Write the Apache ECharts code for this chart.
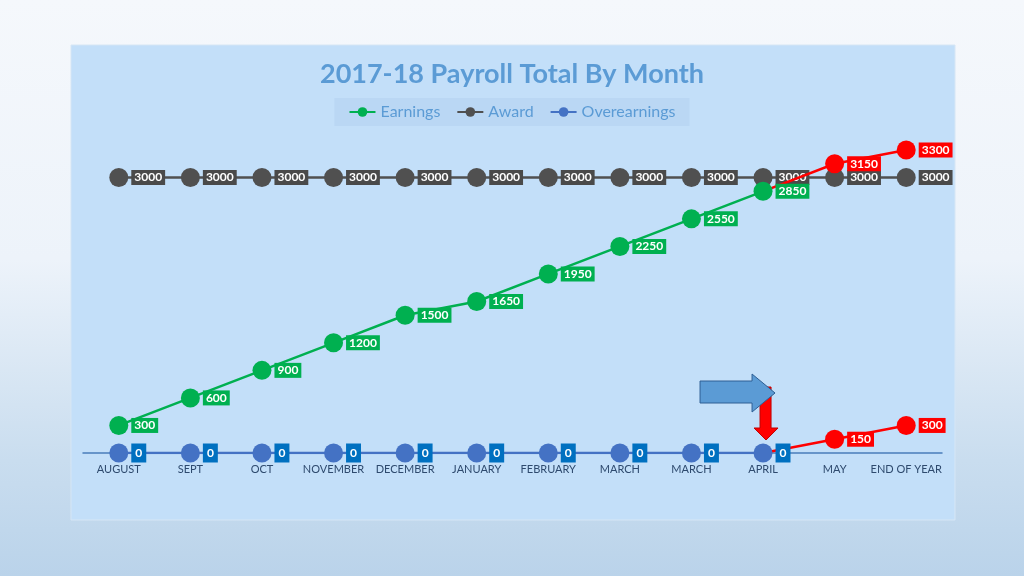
<!DOCTYPE html>
<html>
<head>
<meta charset="utf-8">
<script src="https://cdn.jsdelivr.net/npm/echarts@6/dist/echarts.min.js"></script>
<style>
  html, body { margin: 0; padding: 0; }
  body {
    width: 1024px; height: 576px;
    background: linear-gradient(180deg, #f5f8fc 0%, #edf3fa 45%, #c9ddef 80%, #bad3ea 100%);
  }
  #chart { width: 1024px; height: 576px; }
</style>
</head>
<body>
<div id="chart"></div>
<script>
// month labels along the bottom (the sheet has MARCH twice)
const months = ['AUGUST', 'SEPT', 'OCT', 'NOVEMBER', 'DECEMBER', 'JANUARY', 'FEBRUARY',
  'MARCH', 'MARCH', 'APRIL', 'MAY', 'END OF YEAR']

const earnings = [300, 600, 900, 1200, 1500, 1650, 1950, 2250, 2550, 2850, null, null]
const earningsProjected = [null, null, null, null, null, null, null, null, null, 2850, 3150, 3300]
const award = [3000, 3000, 3000, 3000, 3000, 3000, 3000, 3000, 3000, 3000, 3000, 3000]
const overearnings = [0, 0, 0, 0, 0, 0, 0, 0, 0, 0, null, null]
const overProjected = [null, null, null, null, null, null, null, null, null, 0, 150, 300]

const FONT = 'Lato, "Open Sans", sans-serif'

// no halo, stroke or shadow anywhere on the value boxes
const plain = {
  textBorderWidth: 0,
  textBorderColor: 'transparent',
  textShadowBlur: 0,
  textShadowColor: 'transparent',
  borderWidth: 0,
  borderColor: 'transparent',
  shadowBlur: 0,
  shadowColor: 'transparent',
}

function boxLabel (bg, pad) {
  return Object.assign({
    show: true,
    position: 'right',
    distance: 3,
    color: '#fff',
    fontFamily: FONT,
    fontWeight: 'bold',
    fontSize: 12,
    backgroundColor: bg,
    padding: pad || [2, 3, 1, 3],
    formatter: p => p.value == null ? '' : String(p.value),
  }, plain)
}

// first point of a projected series just joins the line, no dot or label
function joinFirst (arr) {
  return arr.map((v, i) => (v != null && (i === 0 || arr[i - 1] == null))
    ? {value: v, symbol: 'none', label: {show: false}}
    : v)
}

const chart = echarts.init(document.getElementById('chart'), null, {renderer: 'canvas'})

function lineSeries (name, data, color, z, label) {
  return {
    name: name,
    type: 'line',
    data: data,
    z: z,
    symbol: 'circle',
    symbolSize: 19,
    color: color,
    lineStyle: {color: color, width: 2.5},
    itemStyle: {color: color, borderWidth: 0},
    label: label,
    emphasis: {disabled: true},
  }
}

const option = {
  animation: false,
  backgroundColor: 'transparent',
  title: {
    text: '2017-18 Payroll Total By Month',
    left: 'center',
    top: 56,
    textStyle: {
      color: '#5b9bd5',
      fontFamily: FONT,
      fontWeight: 'bold',
      fontSize: 27,
    },
  },
  legend: {
    data: ['Earnings', 'Award', 'Overearnings'],
    top: 98,
    left: 'center',
    itemWidth: 26,
    itemHeight: 12,
    itemGap: 16,
    padding: [6, 14, 6, 14],
    backgroundColor: 'rgba(170, 200, 235, 0.35)',
    textStyle: {color: '#5b9bd5', fontFamily: FONT, fontSize: 16},
  },
  grid: {left: 83, right: 82, top: 150, bottom: 123},
  xAxis: {
    type: 'category',
    data: months,
    boundaryGap: true,
    axisLine: {lineStyle: {color: '#4a7ebb', width: 1.5}},
    axisTick: {show: false},
    axisLabel: {
      color: '#2e4a6e',
      fontFamily: FONT,
      fontSize: 11,
      margin: 11,
      interval: 0,
    },
    splitLine: {show: false},
  },
  yAxis: {
    type: 'value',
    min: 0,
    max: 3300,
    show: false,
    splitLine: {show: false},
  },
  series: [
    lineSeries('Award', award, '#505050', 2, boxLabel('#4a4a4a')),
    lineSeries('Earnings projected', joinFirst(earningsProjected), '#ff0000', 3, boxLabel('#ff0000')),
    lineSeries('Earnings', earnings, '#00b050', 4, boxLabel('#00b050')),
    lineSeries('Over projected', joinFirst(overProjected), '#ff0000', 3, boxLabel('#ff0000')),
    lineSeries('Overearnings', overearnings, '#4472c4', 4, boxLabel('#0070c0', [4, 4, 3, 4])),
  ],
}

chart.setOption(option)

// panel behind the plot, and the two callout arrows next to APRIL
const ax = chart.convertToPixel({xAxisIndex: 0}, 9)
const ay = chart.convertToPixel({yAxisIndex: 0}, 0)

chart.setOption({
  graphic: [
    {
      type: 'rect',
      z: -10,
      silent: true,
      shape: {x: 71, y: 45, width: 884, height: 475},
      style: {fill: '#c3dff9', stroke: '#d6e6f5', lineWidth: 1},
    },
    {
      type: 'polygon',
      z: 10,
      silent: true,
      shape: {
        points: [
          [ax - 3, ay - 66], [ax + 8, ay - 66], [ax + 8, ay - 25], [ax + 15, ay - 25],
          [ax + 3, ay - 13], [ax - 9, ay - 25], [ax - 3, ay - 25],
        ],
      },
      style: {fill: '#ff0000', stroke: '#c00000', lineWidth: 1},
    },
    {
      type: 'polygon',
      z: 11,
      silent: true,
      shape: {
        points: [
          [ax - 63, ay - 72], [ax - 11, ay - 72], [ax - 11, ay - 79], [ax + 12, ay - 60],
          [ax - 11, ay - 41], [ax - 11, ay - 50], [ax - 63, ay - 50],
        ],
      },
      style: {fill: '#5b9bd5', stroke: '#2e5f94', lineWidth: 1},
    },
  ],
})
</script>
</body>
</html>
